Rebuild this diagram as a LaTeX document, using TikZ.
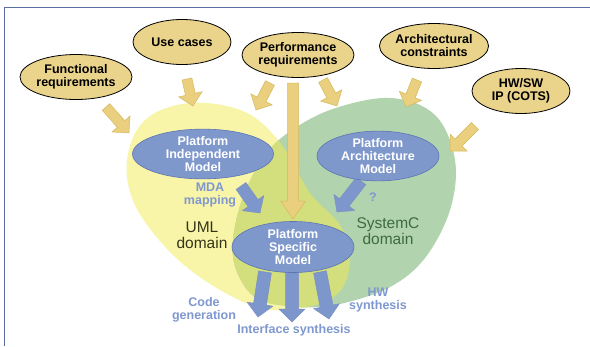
\documentclass[tikz,border=0pt]{standalone}
\usepackage{fontspec}
\setmainfont{Liberation Sans}
\usetikzlibrary{calc,shapes.geometric}
\definecolor{oranfill}{HTML}{EAD38A}
\definecolor{arrfill}{HTML}{E9CF7E}
\definecolor{arredge}{HTML}{D6BA60}
\definecolor{umlcol}{HTML}{F8F4A8}
\definecolor{sccol}{HTML}{B1D3AE}
\definecolor{limecol}{HTML}{D3DE7C}
\definecolor{bluefill}{HTML}{7F98CC}
\definecolor{blueedge}{HTML}{5C74B3}
\definecolor{bluetext}{HTML}{7F98CF}
\definecolor{bluearr}{HTML}{7D96CB}
\definecolor{framecol}{HTML}{5B6F9F}
\definecolor{umltext}{HTML}{35351A}
\definecolor{sctext}{HTML}{3E6B3E}
\newcommand\blockarrow[6]{%
  \coordinate (bah) at ($(#3)!#6!(#2)$);
  \path[#1] ($(#2)!#4!90:(#3)$) -- ($(bah)!#4!90:(#3)$) -- ($(bah)!#5!90:(#3)$)
    -- (#3) -- ($(bah)!#5!-90:(#3)$) -- ($(bah)!#4!-90:(#3)$) -- ($(#2)!#4!-90:(#3)$) -- cycle;
}
\tikzset{
  bfont/.style={font=\fontsize{12.5}{13}\selectfont\bfseries},
  req/.style={ellipse, draw=black, line width=0.8pt, fill=oranfill, bfont, align=center,
    inner sep=0pt, minimum width=98pt, minimum height=45pt},
  model/.style={ellipse, draw=blueedge, line width=0.6pt, fill=bluefill, text=white, bfont,
    align=center, inner sep=0pt},
  oarrow/.style={fill=arrfill, draw=arredge, line width=0.5pt},
  barrow/.style={fill=bluearr, draw=blueedge!80, line width=0.5pt},
  lbl/.style={text=bluetext, bfont, align=center, inner sep=0pt},
  domlbl/.style={font=\fontsize{15.5}{16.5}\selectfont, align=center, inner sep=0pt},
}
\begin{document}
\begin{tikzpicture}[x=1pt,y=-1pt]
\useasboundingbox (0,0) rectangle (590,346);
\fill[white] (0,0) rectangle (590,346);
\draw[framecol, line width=1.5pt] (590,7.5) -- (4.5,7.5) -- (4.5,346);
% domains
\def\umlpath{plot[smooth cycle, tension=0.6] coordinates {(127,160) (145,120) (190,103) (245,112) (282,145) (310,193) (340,225) (350,258) (341,290) (312,306) (265,309) (215,287) (170,252) (135,205)}}
\def\scpath{plot[smooth cycle, tension=0.6] coordinates {(285,135) (330,110) (390,98) (435,115) (455,160) (450,210) (425,258) (390,287) (340,304) (300,307) (258,299) (237,272) (233,240) (243,197) (262,160)}}
\fill[umlcol] \umlpath;
\fill[sccol] \scpath;
\begin{scope}
  \clip \umlpath;
  \fill[limecol] \scpath;
\end{scope}
% requirement ellipses
\node[req] (func) at (76,77) {Functional\\requirements};
\node[req] (use) at (182,42) {Use cases};
\node[req] (perf) at (298,55) {Performance\\requirements};
\node[req] (arch) at (434,46) {Architectural\\constraints};
\node[req] (hwsw) at (521,91) {HW/SW\\IP (COTS)};
% orange arrows
\coordinate (f1) at (106,107); \coordinate (f2) at (129,133);
\coordinate (u1) at (187,79);  \coordinate (u2) at (193,106);
\coordinate (p1) at (270,83);  \coordinate (p2) at (256,110);
\coordinate (pc1) at (293,83); \coordinate (pc2) at (293,219);
\coordinate (pr1) at (323,80); \coordinate (pr2) at (337,106);
\coordinate (a1) at (417,80);  \coordinate (a2) at (406,107);
\coordinate (h1) at (475,126); \coordinate (h2) at (450,151);
\blockarrow{oarrow}{f1}{f2}{5pt}{12pt}{12pt}
\blockarrow{oarrow}{u1}{u2}{5pt}{12pt}{12pt}
\blockarrow{oarrow}{p1}{p2}{5pt}{12pt}{12pt}
\blockarrow{oarrow}{pc1}{pc2}{5.5pt}{12.5pt}{18pt}
\blockarrow{oarrow}{pr1}{pr2}{5pt}{12pt}{12pt}
\blockarrow{oarrow}{a1}{a2}{5pt}{12pt}{12pt}
\blockarrow{oarrow}{h1}{h2}{5pt}{12pt}{12pt}
% blue arrows
\coordinate (m1) at (241,186); \coordinate (m2) at (260,213);
\coordinate (q1) at (361,181); \coordinate (q2) at (337,212);
\coordinate (c1) at (265,272); \coordinate (c2) at (258,317);
\coordinate (i1) at (292,272); \coordinate (i2) at (292,322);
\coordinate (s1) at (320,272); \coordinate (s2) at (329,319);
\blockarrow{barrow}{m1}{m2}{6pt}{13pt}{12pt}
\blockarrow{barrow}{q1}{q2}{6pt}{13pt}{12pt}
\blockarrow{barrow}{c1}{c2}{6.5pt}{13pt}{13pt}
\blockarrow{barrow}{i1}{i2}{6.5pt}{13pt}{13pt}
\blockarrow{barrow}{s1}{s2}{6.5pt}{13pt}{13pt}
% model ellipses
\node[model, minimum width=141pt, minimum height=49pt] (pim) at (203,154) {Platform\\Independent\\Model};
\node[model, minimum width=122pt, minimum height=48pt] (pam) at (378,156) {Platform\\Architecture\\Model};
\node[model, minimum width=122pt, minimum height=51pt] (psm) at (293,247) {Platform\\Specific\\Model};
% labels
\node[lbl] (mda) at (210,195) {MDA\\mapping};
\node[lbl] (qm) at (373,197) {?};
\node[lbl] (code) at (204,310) {Code\\generation};
\node[lbl] (intf) at (294,330) {Interface synthesis};
\node[lbl] (hws) at (378,300) {HW\\synthesis};
\node[domlbl, text=umltext] (uml) at (202,235) {UML\\domain};
\node[domlbl, text=sctext] (scd) at (388,231) {SystemC\\domain};
\end{tikzpicture}
\end{document}
